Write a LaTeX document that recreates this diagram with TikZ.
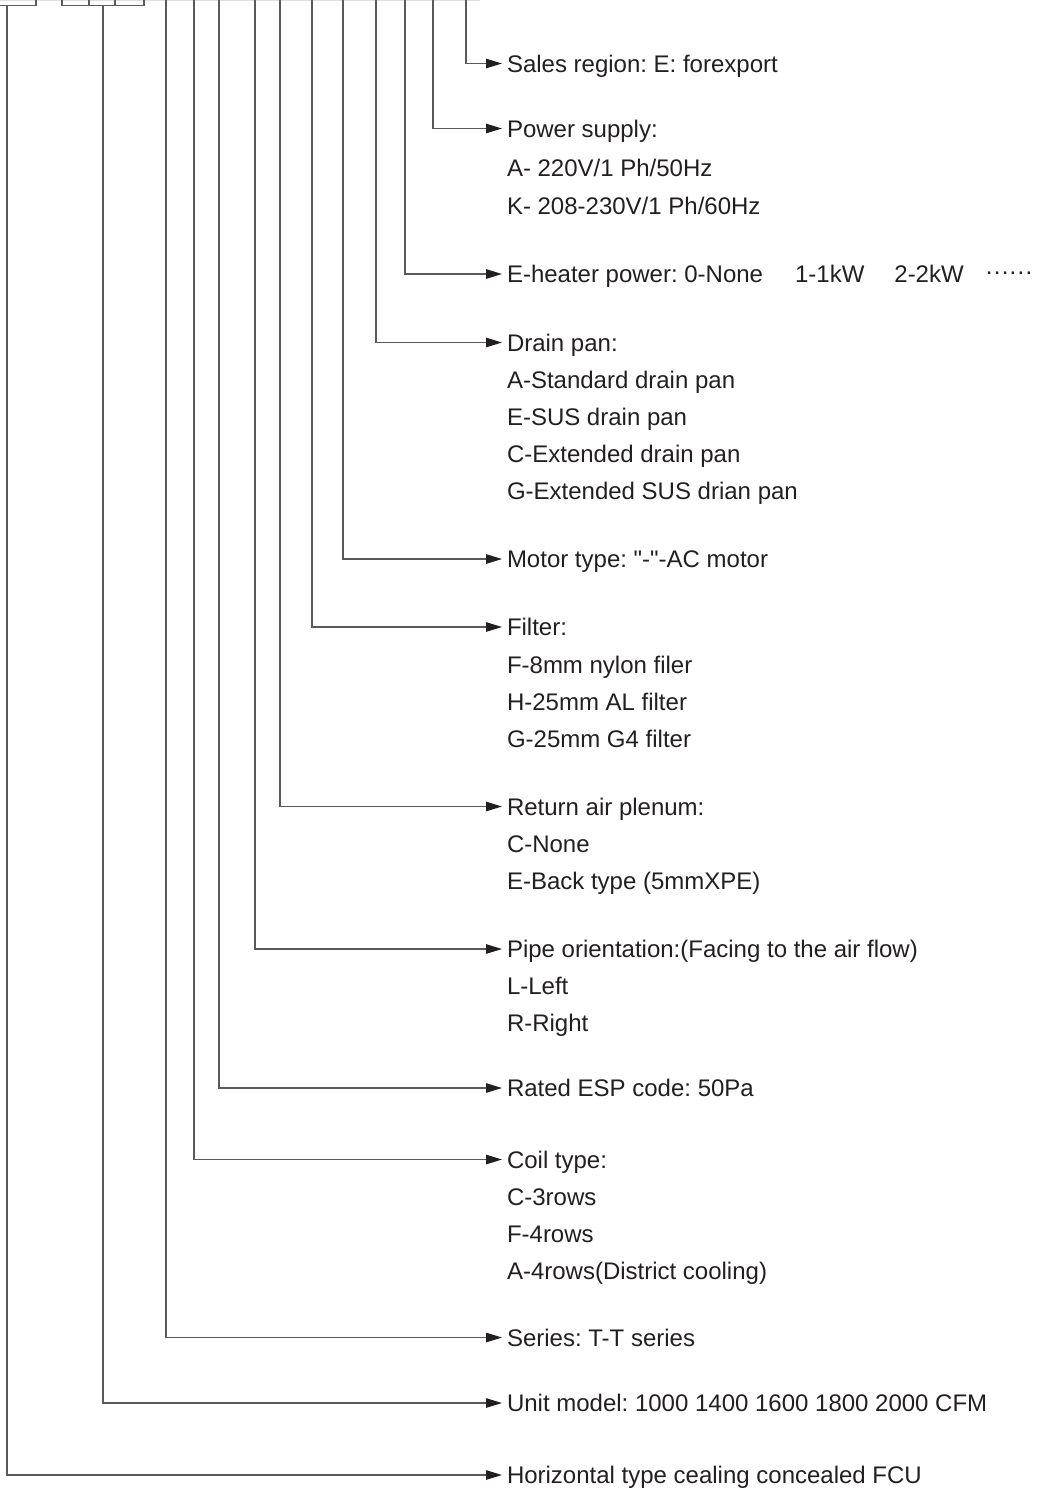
\documentclass[tikz,border=0pt]{standalone}
\usepackage{fontspec}
\setmainfont{Liberation Sans}[Ligatures=TeXOff]
\usetikzlibrary{arrows.meta}
\frenchspacing
\definecolor{txt}{RGB}{35,31,32}
\definecolor{linecol}{RGB}{90,90,90}
\newcommand{\middots}{\raisebox{8.5pt}{.\hspace{1.3pt}.\hspace{1.3pt}.\hspace{1.3pt}.\hspace{1.3pt}.\hspace{1.3pt}.}}
\tikzset{
  lab/.style={anchor=west, inner sep=0pt, outer xsep=5pt, outer ysep=0pt,
    text height=17.2pt, text depth=0pt, text=txt,
    font=\fontsize{24}{28}\selectfont},
  conn/.style={draw=linecol, line width=1.2pt,
    -{Triangle[length=16pt,width=9.5pt,fill=txt,color=txt]}},
  brk/.style={draw=linecol, line width=1.2pt},
}
\begin{document}
\begin{tikzpicture}[x=1pt,y=-1pt]
\useasboundingbox (0,0) rectangle (1039,1489);
% faint top edge line
\draw[gray!25, line width=1pt] (0,0.6) -- (480,0.6);
% top brackets
\draw[brk] (0,5.3) -- (36,5.3) -- (36,0);
\draw[brk] (62,0) -- (62,5.3) -- (144,5.3) -- (144,0);
\draw[brk] (89,5.3) -- (89,0);
\draw[brk] (115,5.3) -- (115,0);
% top coordinates of the code lines
\coordinate (tH) at (7,5.3);
\coordinate (tU) at (103,5.3);
\coordinate (tSe) at (166,0);
\coordinate (tCo) at (194,0);
\coordinate (tRa) at (219,0);
\coordinate (tPi) at (255,0);
\coordinate (tRe) at (280,0);
\coordinate (tFi) at (312,0);
\coordinate (tMo) at (343,0);
\coordinate (tDr) at (376,0);
\coordinate (tHe) at (405,0);
\coordinate (tPo) at (433,0);
\coordinate (tSa) at (466,0);
% labels
\node[lab] (sales) at (502,63.5) {Sales region: E: forexport};
\node[lab] (power) at (502,128.5) {Power supply:};
\node[lab] (power1) at (502,168) {A- 220V/1 Ph/50Hz};
\node[lab] (power2) at (502,206) {K- 208-230V/1 Ph/60Hz};
\node[lab] (heater) at (502,274) {E-heater power: 0-None\hspace{32pt}1-1kW\hspace{30pt}2-2kW\hspace{22pt}\middots};
\node[lab] (drain) at (502,342.5) {Drain pan:};
\node[lab] (drain1) at (502,379.5) {A-Standard drain pan};
\node[lab] (drain2) at (502,416.5) {E-SUS drain pan};
\node[lab] (drain3) at (502,453.5) {C-Extended drain pan};
\node[lab] (drain4) at (502,490.5) {G-Extended SUS drian pan};
\node[lab] (motor) at (502,559) {Motor type: "-"-AC motor};
\node[lab] (filter) at (502,627) {Filter:};
\node[lab] (filter1) at (502,664.5) {F-8mm nylon filer};
\node[lab] (filter2) at (502,701.5) {H-25mm AL filter};
\node[lab] (filter3) at (502,738.5) {G-25mm G4 filter};
\node[lab] (ret) at (502,806.5) {Return air plenum:};
\node[lab] (ret1) at (502,843.5) {C-None};
\node[lab] (ret2) at (502,880.5) {E-Back type (5mmXPE)};
\node[lab] (pipe) at (502,949) {Pipe orientation:(Facing to the air flow)};
\node[lab] (pipe1) at (502,986) {L-Left};
\node[lab] (pipe2) at (502,1023) {R-Right};
\node[lab] (rated) at (502,1088) {Rated ESP code: 50Pa};
\node[lab] (coil) at (502,1159.5) {Coil type:};
\node[lab] (coil1) at (502,1196.5) {C-3rows};
\node[lab] (coil2) at (502,1233.5) {F-4rows};
\node[lab] (coil3) at (502,1270.5) {A-4rows(District cooling)};
\node[lab] (series) at (502,1337.5) {Series: T-T series};
\node[lab] (unit) at (502,1403) {Unit model: 1000 1400 1600 1800 2000 CFM};
\node[lab] (horiz) at (502,1475) {Horizontal type cealing concealed FCU};
% connectors
\draw[conn] (tSa) |- (sales.west);
\draw[conn] (tPo) |- (power.west);
\draw[conn] (tHe) |- (heater.west);
\draw[conn] (tDr) |- (drain.west);
\draw[conn] (tMo) |- (motor.west);
\draw[conn] (tFi) |- (filter.west);
\draw[conn] (tRe) |- (ret.west);
\draw[conn] (tPi) |- (pipe.west);
\draw[conn] (tRa) |- (rated.west);
\draw[conn] (tCo) |- (coil.west);
\draw[conn] (tSe) |- (series.west);
\draw[conn] (tU) |- (unit.west);
\draw[conn] (tH) |- (horiz.west);
\end{tikzpicture}
\end{document}
